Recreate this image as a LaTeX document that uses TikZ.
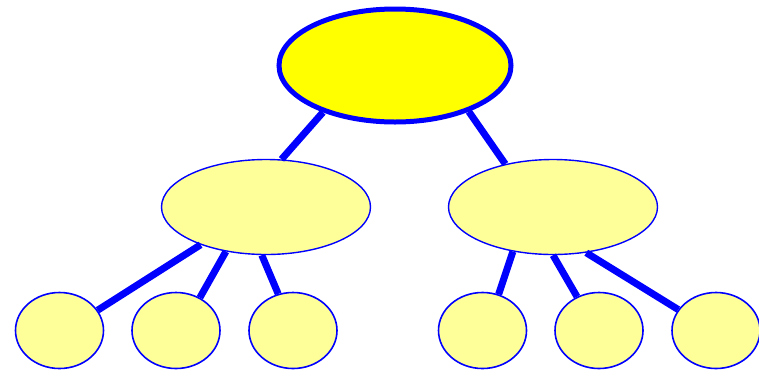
\documentclass[tikz,border=0pt]{standalone}
\usetikzlibrary{shapes.geometric}
\definecolor{rootfill}{RGB}{255,255,0}
\definecolor{lightfill}{RGB}{255,255,153}
\definecolor{edgeblue}{RGB}{0,0,255}
\begin{document}
\begin{tikzpicture}[x=1pt,y=-1pt,
  rootnode/.style={ellipse,draw=edgeblue,fill=rootfill,line width=5pt,minimum width=232pt,minimum height=113pt,inner sep=0pt},
  midnode/.style={ellipse,draw=edgeblue,fill=lightfill,line width=1.4pt,minimum width=209pt,minimum height=95pt,inner sep=0pt},
  leafnode/.style={ellipse,draw=edgeblue,fill=lightfill,line width=1.6pt,minimum width=88pt,minimum height=76pt,inner sep=0pt},
  link/.style={draw=edgeblue,line width=7pt}]
\useasboundingbox (0,0) rectangle (759,370);
\node[rootnode] (root) at (395,65.5) {};
\node[midnode] (ml) at (266,207) {};
\node[midnode] (mr) at (553,207) {};
\node[leafnode] (l1) at (59.5,330.5) {};
\node[leafnode] (l2) at (176,330.5) {};
\node[leafnode] (l3) at (293,330.5) {};
\node[leafnode] (l4) at (482.5,330.5) {};
\node[leafnode] (l5) at (599,330.5) {};
\node[leafnode] (l6) at (716,330.5) {};
\draw[link] (root.213) -- (ml.72);
\draw[link] (root.328) -- (mr.138);
\draw[link] (ml.210.7) -- (l1.28.7);
\draw[link] (ml.228.4) -- (l2.54.3);
\draw[link] (ml.265) -- (l3.112.4);
\draw[link] (mr.228.4) -- (l4.66.2);
\draw[link] (mr.270) -- (l5.123.7);
\draw[link] (mr.306.5) -- (l6.151);
\end{tikzpicture}
\end{document}
